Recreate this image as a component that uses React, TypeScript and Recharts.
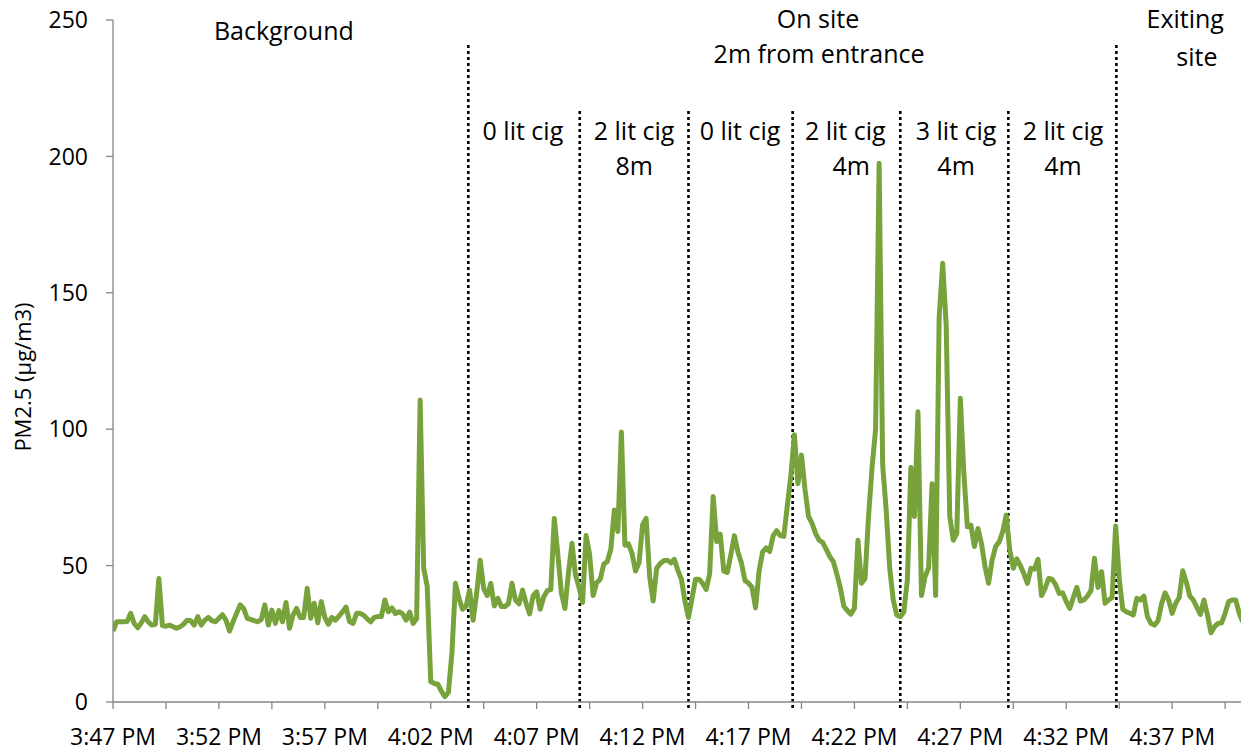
import React from 'react';
import { LineChart, Line, XAxis, YAxis, ReferenceLine, ReferenceDot, Label } from 'recharts';

// PM2.5 readings, one every 10 seconds starting at 3:47 PM
const PM25 = [
  26, 29.4, 29.4, 29.4, 29.5, 32.5, 28.8, 27.2, 29, 31.3,
  29.4, 28.2, 28.5, 45.3, 28, 27.8, 28.2, 27.6, 27, 27.6,
  28.5, 30, 29.8, 28.2, 31.3, 28.2, 30, 31, 29.8, 29.4,
  30.7, 32, 30, 26, 29.4, 32.5, 35.6, 34.3, 30.7, 30.3,
  29.8, 29.4, 30.3, 35.6, 28.2, 33.7, 28.8, 33.5, 29.4, 36.5,
  27, 31.9, 34.3, 31, 31, 41.7, 30.7, 36.2, 29, 36.8,
  31, 28.5, 31, 30, 31.5, 33, 34.8, 29.5, 28.8, 32.5,
  32.5, 31.8, 30.5, 29.4, 31, 31.3, 31.3, 37.4, 33.1, 34.5,
  32.4, 33.1, 32.4, 30, 33, 28.8, 30.5, 110.7, 49, 42.3,
  7.5, 6.8, 6.5, 4, 2, 3.5, 18, 43.5, 38, 34,
  35, 41, 30, 39.8, 52, 41.5, 39, 43.5, 35.2, 38,
  35, 35, 36, 43.5, 37.4, 36, 41, 36.2, 32.3, 39,
  40.4, 34, 38.5, 40.8, 41.2, 67.3, 54, 40, 34.3, 47.2,
  58.2, 46.5, 42, 36.5, 61, 54, 39, 43.7, 45, 50.5,
  51.5, 56, 70.4, 62.5, 99, 57.5, 58, 54.5, 48, 51,
  65, 67.3, 46, 37, 49, 50.8, 51.8, 52, 51, 52.3,
  48.2, 45, 37, 31, 38, 45, 45, 43.5, 41.2, 47,
  75.3, 58.8, 61.5, 48, 47.5, 54, 61, 55, 51, 44.5,
  43.6, 42, 34.5, 48, 55, 56.5, 55.2, 61, 62.8, 61,
  60.7, 72, 83, 98, 80, 90.5, 78, 68, 65.5, 61.8,
  59.3, 58.5, 56, 53.4, 51.5, 47, 41.9, 35.1, 33.5, 32.2,
  34.3, 59.3, 43.5, 45.3, 68, 86, 100, 197.5, 87, 70.4,
  49, 37.4, 31.9, 31.3, 33, 44.7, 86, 68, 106.4, 39,
  46, 49, 80, 39, 141, 160.8, 138, 68, 59.3, 61.8,
  111.3, 84, 64.2, 64.8, 57, 63.6, 58, 49.6, 43.5, 52,
  57, 58.7, 62.4, 68.5, 55.7, 49, 52.5, 50, 47, 43.5,
  49, 48.7, 52.3, 39, 41.6, 45.3, 45, 43, 39.8, 40,
  36.8, 34.3, 38.3, 42, 37, 37.4, 38.8, 40.8, 52.7, 42,
  47.8, 36.2, 37.4, 38.3, 64.5, 45.3, 34, 33.1, 32.5, 31.9,
  38, 37.4, 38.8, 31.3, 28.8, 28.2, 29.8, 36, 40, 37.4,
  32.5, 36.2, 38.3, 48.1, 44, 38.8, 37.4, 34.7, 32.1, 37.4,
  31.9, 25.4, 27.6, 28.8, 29, 32.5, 36.8, 37.4, 37.4, 32.5,
  29.4,
];

// Tick labels, one every 5 minutes (every 30 samples); tick marks every 15 samples
const TIME_LABELS = ['3:47 PM', '3:52 PM', '3:57 PM', '4:02 PM', '4:07 PM', '4:12 PM', '4:17 PM', '4:22 PM', '4:27 PM', '4:32 PM', '4:37 PM'];
const Y_TICKS = [0, 50, 100, 150, 200, 250];

// Phase boundaries (sample index) and their top value
const PHASE_AT = [100.65, 132.2, 163.0, 192.5, 223.0, 253.6, 284.2];
const PHASE_TOP = [241.9, 217.7, 217.7, 217.7, 217.7, 217.7, 241.9];

// Annotations: text, sample index of centre, value of centre
const NOTE_TEXT = ['Background', 'On site', '2m from entrance', 'Exiting', 'site',
  '0 lit cig', '2 lit cig', '8m', '0 lit cig', '2 lit cig', '4m', '3 lit cig', '4m', '2 lit cig', '4m'];
const NOTE_X = [48.4, 199.7, 200, 303.7, 307,
  116.1, 147.6, 147.6, 177.6, 207.4, 209.1, 238.8, 238.8, 269.1, 269.1];
const NOTE_Y = [246.0, 250.3, 237.5, 250.3, 236.4,
  209.3, 209.3, 196.3, 209.3, 209.3, 196.3, 209.3, 196.3, 209.3, 196.3];

const data = PM25.map((v, i) => ({ i, v }));
const xTicks = Array.from({ length: 22 }, (_, k) => k * 15);

const FONT = "'Open Sans', sans-serif";
const AXIS_COLOR = '#868686';

export default function App() {
  return (
    <div style={{ width: 1241, height: 752, background: '#fff', overflow: 'hidden' }}>
      <style>{'html,body{margin:0;padding:0;overflow:hidden;background:#fff}'}</style>
      <LineChart width={1241} height={752} data={data} margin={{ top: 20, right: 0, left: 0, bottom: 0 }}>
        <XAxis
          type="number"
          dataKey="i"
          domain={[0, 319.5]}
          allowDataOverflow
          ticks={xTicks}
          interval={0}
          height={50}
          tickSize={7}
          tickMargin={20}
          stroke={AXIS_COLOR}
          strokeWidth={1.3}
          tick={{ fill: '#000', fontSize: 23, fontFamily: FONT }}
          tickFormatter={(v: number) => (v % 30 === 0 ? TIME_LABELS[v / 30] : '')}
        />
        <YAxis
          type="number"
          domain={[0, 250]}
          ticks={Y_TICKS}
          interval={0}
          width={113}
          tickSize={7}
          tickMargin={18}
          stroke={AXIS_COLOR}
          strokeWidth={1.3}
          tick={{ fill: '#000', fontSize: 23, fontFamily: FONT }}
        >
          <Label
            content={(props: any) => {
              const vb = props.viewBox || {};
              const cx = 22;
              const cy = (vb.y || 0) + (vb.height || 0) / 2 + 16;
              return (
                <text
                  x={cx}
                  y={cy}
                  transform={`rotate(-90, ${cx}, ${cy})`}
                  textAnchor="middle"
                  dominantBaseline="central"
                  fontSize={22}
                  fontFamily={FONT}
                  fill="#000"
                >
                  PM2.5 (μg/m3)
                </text>
              );
            }}
          />
        </YAxis>
        {PHASE_AT.map((x, k) => (
          <ReferenceLine
            key={'p' + k}
            segment={[{ x, y: -2.2 }, { x, y: PHASE_TOP[k] }]}
            stroke="#000"
            strokeWidth={2.6}
            strokeDasharray="3 3"
            ifOverflow="visible"
          />
        ))}
        <Line
          type="linear"
          dataKey="v"
          stroke="#78A33C"
          strokeWidth={5}
          strokeLinejoin="round"
          dot={false}
          activeDot={false}
          isAnimationActive={false}
        />
        {NOTE_TEXT.map((t, k) => (
          <ReferenceDot
            key={'n' + k}
            x={NOTE_X[k]}
            y={NOTE_Y[k]}
            r={0}
            fill="none"
            stroke="none"
            ifOverflow="visible"
            label={{ value: t, position: 'center', fontSize: 25, fontFamily: FONT, fill: '#000' }}
          />
        ))}
      </LineChart>
    </div>
  );
}
